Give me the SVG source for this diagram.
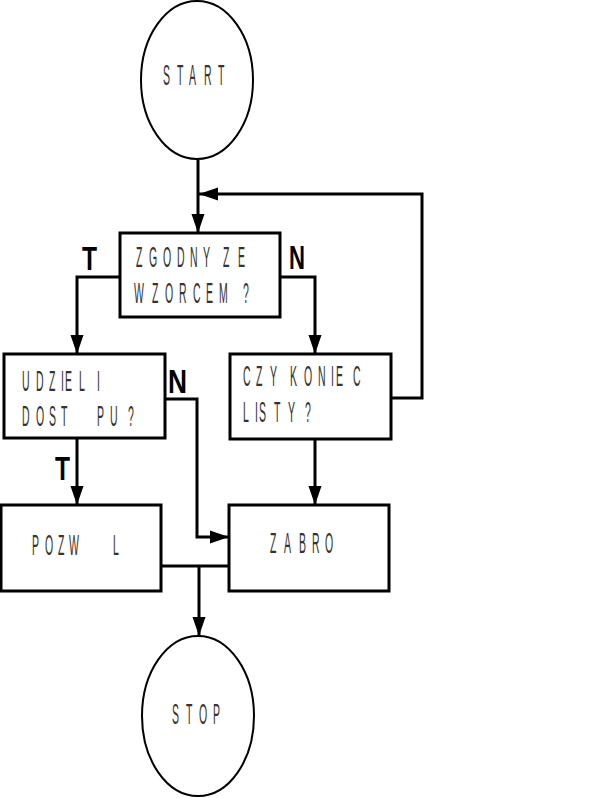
<svg xmlns="http://www.w3.org/2000/svg" width="611" height="798" viewBox="0 0 611 798">
<style>
.node{fill:#fff;stroke:#000;stroke-width:3}
.oval{fill:#fff;stroke:#000;stroke-width:2}
.t{font-family:"Liberation Sans",Arial,sans-serif;font-size:30px;fill:#333;}
.lb{font-family:"Liberation Sans",Arial,sans-serif;font-size:34px;font-weight:bold;fill:#000;}
.c{fill:none;stroke:#000;stroke-width:3}
</style>
<defs>
<marker id="ah" markerUnits="userSpaceOnUse" markerWidth="20" markerHeight="14" refX="19" refY="7" orient="auto">
<path d="M0,0.5 L19,7 L0,13.5 z" fill="#000"/>
</marker>
</defs>
<rect width="611" height="798" fill="#fff"/>
<g id="connectors">
<path class="c" d="M198,160 V233" marker-end="url(#ah)"/>
<path class="c" d="M391,398 H422 V194 H199" marker-end="url(#ah)"/>
<path class="c" d="M120,277 H77 V354" marker-end="url(#ah)"/>
<path class="c" d="M280,277 H315 V354" marker-end="url(#ah)"/>
<path class="c" d="M165,399 H197 V537 H229" marker-end="url(#ah)"/>
<path class="c" d="M77,438 V505" marker-end="url(#ah)"/>
<path class="c" d="M315,439 V505" marker-end="url(#ah)"/>
<path class="c" d="M161,566 H229"/>
<path class="c" d="M199,566 V636" marker-end="url(#ah)"/>
</g>
<g id="start">
<ellipse class="oval" cx="197" cy="80" rx="56" ry="79"/>
<text class="t" transform="scale(0.35,1)" x="465.7 505.7 540 582.9 622.9" y="85">START</text>
</g>
<g id="zgodny">
<rect class="node" x="120" y="233" width="160" height="84"/>
<text class="t" transform="scale(0.35,1)" x="388.6 425.7 465.7 505.7 542.9 580 637.1 680" y="267">ZGODNYZE</text>
<text class="t" transform="scale(0.35,1)" x="382.9 434.3 471.4 511.4 551.4 588.6 625.7 694.3" y="303">WZORCEM?</text>
</g>
<g id="udzieli">
<rect class="node" x="4" y="354" width="161" height="84"/>
<text class="t" transform="scale(0.35,1)" x="62.9 102.9 140 174.3 185.7 225.7 277.1" y="391">UDZIELI</text>
<text class="t" transform="scale(0.35,1)" x="62.9 102.9 140 174.3 277.1 314.3 365.7" y="426">DOSTPU?</text>
</g>
<g id="koniec">
<rect class="node" x="230" y="354" width="161" height="85"/>
<text class="t" transform="scale(0.35,1)" x="694.3 731.4 771.4 828.6 868.6 908.6 945.7 960 1008.6" y="386">CZYKONIEC</text>
<text class="t" transform="scale(0.35,1)" x="694.3 728.6 740 782.9 822.9 871.4" y="422">LISTY?</text>
</g>
<g id="pozwol">
<rect class="node" x="1" y="505" width="160" height="86"/>
<text class="t" transform="scale(0.35,1)" x="91.4 128.6 165.7 197.1 322.9" y="555">POZWL</text>
</g>
<g id="zabro">
<rect class="node" x="229" y="505" width="160" height="86"/>
<text class="t" transform="scale(0.35,1)" x="771.4 811.4 854.3 891.4 928.6" y="553">ZABRO</text>
</g>
<g id="stop">
<ellipse class="oval" cx="198" cy="716" rx="56" ry="80"/>
<text class="t" transform="scale(0.35,1)" x="491.4 531.4 568.6 608.6" y="724">STOP</text>
</g>
<g id="labels">
<text class="lb" x="82" y="270" textLength="15" lengthAdjust="spacingAndGlyphs">T</text>
<text class="lb" x="289" y="269" textLength="16" lengthAdjust="spacingAndGlyphs">N</text>
<text class="lb" x="168" y="393" textLength="19" lengthAdjust="spacingAndGlyphs">N</text>
<text class="lb" x="55" y="480" textLength="15" lengthAdjust="spacingAndGlyphs">T</text>
</g>
</svg>
